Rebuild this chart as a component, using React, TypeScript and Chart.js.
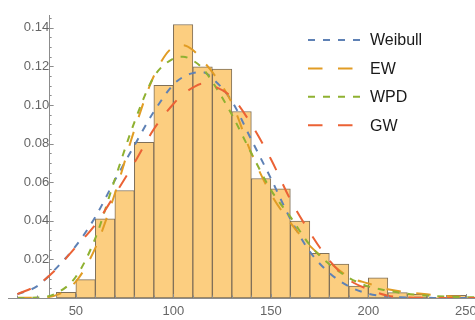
import React, { useEffect, useRef } from 'react';
import { Chart, registerables } from 'chart.js';

Chart.register(...registerables);

// ---- data ----
const binLeftEdges = [40, 50, 60, 70, 80, 90, 100, 110, 120, 130, 140, 150, 160, 170, 180, 190, 200, 210, 220, 230, 240];
const binDensity = [0.003, 0.0095, 0.041, 0.0557, 0.0807, 0.1102, 0.1417, 0.1197, 0.1186, 0.0966, 0.0619, 0.0565, 0.0398, 0.0231, 0.0176, 0.0062, 0.0104, 0.0028, 0.0019, 0.0004, 0.0014];
const binWidth = 10;

const curveX = [20, 30, 40, 50, 60, 70, 80, 90, 100, 105, 110, 115, 120, 130, 140, 150, 160, 170, 180, 190, 200, 210, 220, 230, 240, 250, 256];
const weibull = [0.002, 0.006, 0.0155, 0.027, 0.042, 0.061, 0.079, 0.0965, 0.1105, 0.1145, 0.1165, 0.117, 0.1138, 0.102, 0.082, 0.062, 0.041, 0.024, 0.013, 0.006, 0.0022, 0.0007, 0.0002, 0.0001, 0, 0, 0];
const ew = [0.0001, 0.0002, 0.0015, 0.0085, 0.026, 0.054, 0.087, 0.115, 0.13, 0.131, 0.1285, 0.123, 0.117, 0.101, 0.075, 0.054, 0.039, 0.027, 0.0185, 0.011, 0.0075, 0.0045, 0.003, 0.0019, 0.0011, 0.0006, 0.0004];
const wpd = [0, 0.0002, 0.0025, 0.011, 0.031, 0.0615, 0.091, 0.1145, 0.124, 0.125, 0.123, 0.119, 0.112, 0.095, 0.075, 0.056, 0.042, 0.0275, 0.0175, 0.0105, 0.006, 0.0038, 0.0022, 0.0013, 0.0007, 0.0004, 0.0003];
const gw = [0.002, 0.0065, 0.015, 0.0265, 0.038, 0.0535, 0.07, 0.0875, 0.1005, 0.1055, 0.109, 0.111, 0.11, 0.104, 0.09, 0.072, 0.051, 0.034, 0.0195, 0.0095, 0.0045, 0.0012, 0.0003, 0.0001, 0, 0, 0];

const seriesLabels = ['Weibull', 'EW', 'WPD', 'GW'];
const xTickValues = [50, 100, 150, 200, 250];
const yTickValues = [0.02, 0.04, 0.06, 0.08, 0.1, 0.12, 0.14];

// ---- view / style ----
const xMin = 15.2;
const xMax = 254.7;
const yMax = 0.1466;
const yAxisAt = 36.3;
const axisColor = '#8c8c8c';
const tickColor = '#666666';
const fontFamily = '"Liberation Sans", Arial, sans-serif';
const seriesColors = ['#5E81B5', '#E19C24', '#8FB131', '#EB6235'];
const seriesDash = [[7, 8], [14.5, 15.5], [7, 8], [14.5, 15.5]];

const mmaTicks = {
  id: 'mmaTicks',
  afterDraw(chart: any) {
    const { ctx, scales } = chart;
    const x = scales.x;
    const y = scales.y;
    const base = y.getPixelForValue(0);
    const yAxisPx = x.getPixelForValue(yAxisAt);
    ctx.save();
    ctx.strokeStyle = axisColor;
    ctx.lineWidth = 1;
    ctx.beginPath();
    for (let v = 20; v <= 250; v += 10) {
      const px = Math.round(x.getPixelForValue(v)) + 0.5;
      const len = v % 50 === 0 ? 4 : 2.5;
      ctx.moveTo(px, base);
      ctx.lineTo(px, base - len);
    }
    for (let k = 1; k <= 29; k++) {
      const py = Math.round(y.getPixelForValue(k * 0.005)) + 0.5;
      const len = k % 4 === 0 ? 4.5 : 2.5;
      ctx.moveTo(yAxisPx, py);
      ctx.lineTo(yAxisPx + len, py);
    }
    ctx.stroke();
    ctx.restore();
  },
};

const legendPlugin = {
  id: 'mmaLegend',
  afterDraw(chart: any) {
    const ctx = chart.ctx;
    const lines = chart.data.datasets.filter((d: any) => d.type === 'line');
    ctx.save();
    lines.forEach((ds: any, i: number) => {
      const yy = 40 + i * 28.4;
      ctx.strokeStyle = ds.borderColor;
      ctx.lineWidth = 2;
      ctx.lineCap = 'butt';
      ctx.setLineDash(ds.borderDash);
      ctx.beginPath();
      ctx.moveTo(308, yy);
      ctx.lineTo(360, yy);
      ctx.stroke();
      ctx.setLineDash([]);
      ctx.fillStyle = '#1a1a1a';
      ctx.font = '16px ' + fontFamily;
      ctx.textAlign = 'left';
      ctx.textBaseline = 'middle';
      ctx.fillText(ds.label, 370, yy + 1);
    });
    ctx.restore();
  },
};

export default function App() {
  const ref = useRef<HTMLCanvasElement>(null);
  useEffect(() => {
    const curves = [weibull, ew, wpd, gw];
    const lineSets = curves.map((vals, i) => ({
      type: 'line' as const,
      label: seriesLabels[i],
      data: curveX.map((xv, j) => ({ x: xv, y: vals[j] })),
      borderColor: seriesColors[i],
      borderWidth: 2,
      borderDash: seriesDash[i],
      borderCapStyle: 'butt' as const,
      pointRadius: 0,
      fill: false,
      cubicInterpolationMode: 'monotone' as const,
      order: 4 - i,
    }));
    const chart = new Chart(ref.current!, {
      type: 'bar',
      data: {
        datasets: [
          {
            type: 'bar' as const,
            label: 'histogram',
            data: binLeftEdges.map((e, i) => ({ x: e + binWidth / 2, y: binDensity[i] })),
            backgroundColor: 'rgb(252,206,128)',
            borderColor: 'rgb(128,112,88)',
            borderWidth: 1,
            borderSkipped: false,
            barPercentage: 1,
            categoryPercentage: 1,
            order: 10,
          } as any,
          ...lineSets,
        ],
      },
      options: {
        responsive: false,
        animation: false,
        events: [],
        layout: { padding: { left: 8, top: 15, right: 0, bottom: 0 } },
        plugins: { legend: { display: false }, tooltip: { enabled: false } },
        scales: {
          x: {
            type: 'linear',
            min: xMin,
            max: xMax,
            offset: false,
            position: 'bottom',
            grid: { display: false, drawTicks: false, offset: false },
            border: { display: true, color: axisColor, width: 1 },
            ticks: { padding: 6, color: tickColor, font: { family: fontFamily, size: 13 }, maxRotation: 0, autoSkip: false },
            afterBuildTicks: (s: any) => { s.ticks = xTickValues.map((v) => ({ value: v })); },
            afterFit: (s: any) => { s.height = 22; s.paddingLeft = 0; s.paddingRight = 0; },
          },
          y: {
            type: 'linear',
            min: 0,
            max: yMax,
            position: { x: yAxisAt } as any,
            grid: { display: false, drawTicks: false },
            border: { display: true, color: axisColor, width: 1 },
            ticks: { padding: 7, color: tickColor, font: { family: fontFamily, size: 13 }, callback: (v: any) => Number(v).toFixed(2) },
            afterBuildTicks: (s: any) => { s.ticks = yTickValues.map((v) => ({ value: v })); },
          },
        },
      } as any,
      plugins: [mmaTicks, legendPlugin],
    });
    return () => chart.destroy();
  }, []);
  return (
    <div style={{ position: 'absolute', left: 0, top: 0, width: 475, height: 320 }}>
      <canvas ref={ref} width={475} height={320} style={{ display: 'block' }} />
    </div>
  );
}
